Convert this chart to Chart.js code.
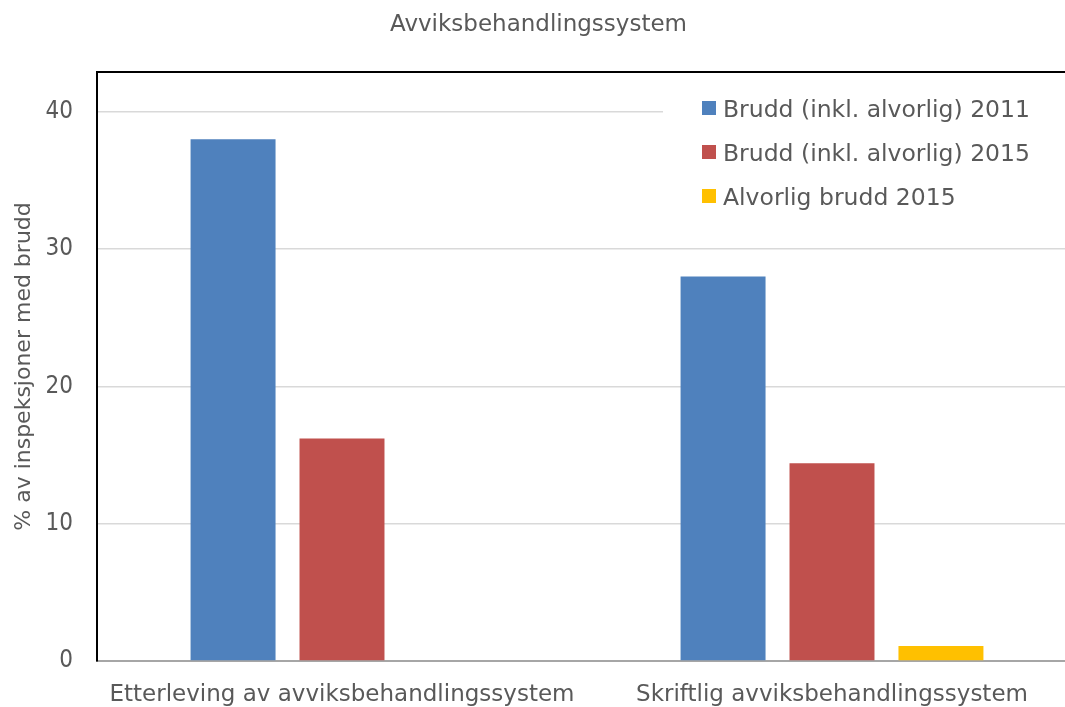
<!DOCTYPE html>
<html>
<head>
<meta charset="utf-8">
<script src="https://cdn.jsdelivr.net/npm/chart.js@4.4.1/dist/chart.umd.min.js"></script>
<style>
  body { margin: 0; overflow: hidden; background: #fff; }
  #wrap { width: 1080px; height: 707px; }
</style>
</head>
<body>
<div id="wrap"><canvas id="myChart"></canvas></div>
<script>
var kategorier = ['Etterleving av avviksbehandlingssystem', 'Skriftlig avviksbehandlingssystem']
var brudd2011 = [38, 28]
var brudd2015 = [16.2, 14.4]
var alvorlig2015 = [0, 1.1]
var yTicks = [0, 10, 20, 30, 40]

var fontNavn = '"DejaVu Sans", sans-serif'
var tallFont = '"DejaVu Sans Condensed", "DejaVu Sans", sans-serif'
var tekstFarge = '#595959'

// legend in the plot area with a white box behind it, like the original
const legendeBoks = {
  id: 'legendeBoks',
  afterDatasetsDraw(chart) {
    const ctx = chart.ctx
    const area = chart.chartArea
    const x0 = area.right - 414
    const y0 = area.top + 13
    ctx.save()
    ctx.fillStyle = '#fff'
    ctx.fillRect(x0, y0, 414, 132)
    ctx.font = '23.5px ' + fontNavn
    ctx.textBaseline = 'alphabetic'
    chart.data.datasets.forEach((ds, i) => {
      const y = y0 + 16 + i * 44
      ctx.fillStyle = ds.backgroundColor
      ctx.fillRect(x0 + 39, y, 14, 14)
      ctx.fillStyle = tekstFarge
      ctx.fillText(ds.label, x0 + 60, y + 16)
    })
    ctx.restore()
  }
}

// black line along the top of the plot area
const toppLinje = {
  id: 'toppLinje',
  afterDraw(chart) {
    const ctx = chart.ctx
    const area = chart.chartArea
    ctx.save()
    ctx.strokeStyle = '#000'
    ctx.lineWidth = 2
    ctx.beginPath()
    ctx.moveTo(area.left - 1, area.top)
    ctx.lineTo(area.right, area.top)
    ctx.stroke()
    ctx.restore()
  }
}

const ctx = document.getElementById('myChart')

new Chart(ctx, {
  type: 'bar',
  data: {
    labels: kategorier,
    datasets: [{
      label: 'Brudd (inkl. alvorlig) 2011',
      data: brudd2011,
      backgroundColor: '#4F81BD'
    },
    {
      label: 'Brudd (inkl. alvorlig) 2015',
      data: brudd2015,
      backgroundColor: '#C0504D'
    },
    {
      label: 'Alvorlig brudd 2015',
      data: alvorlig2015,
      backgroundColor: '#FFC000'
    }]
  },
  options: {
    responsive: true,
    maintainAspectRatio: false,
    animation: false,
    categoryPercentage: 0.667,
    barPercentage: 0.78,
    layout: { padding: { left: 0, right: 3, top: 0, bottom: 0 } },
    plugins: {
      legend: { display: false },
      tooltip: { enabled: false },
      title: {
        display: true,
        text: 'Avviksbehandlingssystem',
        color: tekstFarge,
        font: { family: fontNavn, size: 23, weight: 'normal', lineHeight: 1.2 },
        padding: { top: 11, bottom: 33.4 }
      }
    },
    scales: {
      x: {
        grid: { display: false },
        border: { color: '#a6a6a6', width: 2 },
        ticks: {
          color: tekstFarge,
          font: { family: fontNavn, size: 23 },
          padding: 12,
          maxRotation: 0
        },
        afterFit(scale) { scale.height = 46 }
      },
      y: {
        min: 0,
        max: 42.9,
        afterBuildTicks(scale) {
          scale.ticks = yTicks.map(v => ({ value: v }))
        },
        grid: { color: '#d9d9d9', lineWidth: 1.5, drawTicks: false },
        border: { color: '#000', width: 2 },
        ticks: {
          color: tekstFarge,
          font: { family: tallFont, size: 24 },
          padding: 24
        },
        title: {
          display: true,
          text: '% av inspeksjoner med brudd',
          color: tekstFarge,
          font: { family: fontNavn, size: 22 },
          padding: { top: 11, bottom: 0 }
        },
        afterFit(scale) { scale.width = 97 }
      }
    }
  },
  plugins: [legendeBoks, toppLinje]
})
</script>
</body>
</html>
